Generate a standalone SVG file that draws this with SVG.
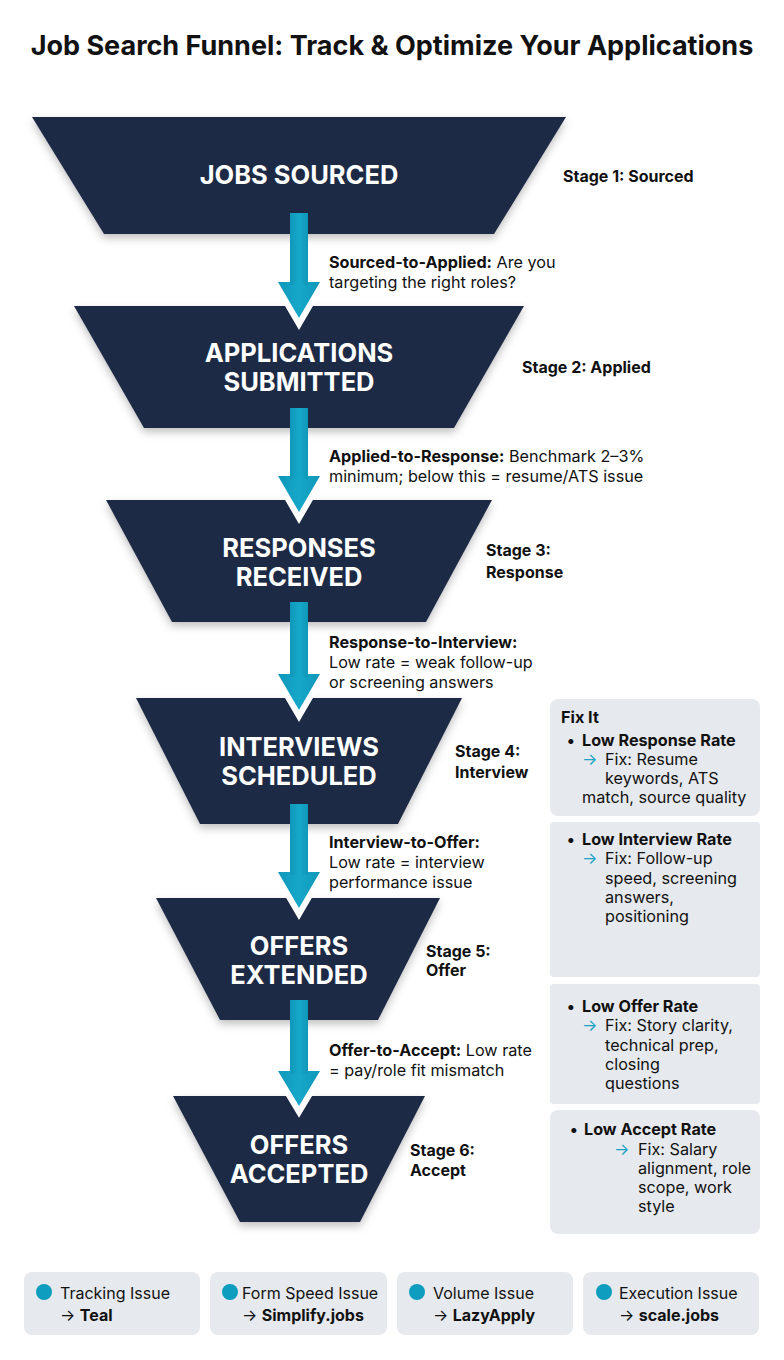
<svg xmlns="http://www.w3.org/2000/svg" width="784" height="1360" viewBox="0 0 784 1360">
<defs>
<filter id="sh" x="-10%" y="-10%" width="120%" height="130%">
<feDropShadow dx="0" dy="4" stdDeviation="4" flood-color="#000" flood-opacity="0.25"/>
</filter>
<linearGradient id="tg" x1="0" y1="0" x2="1" y2="0">
<stop offset="0" stop-color="#0f97b9"/>
<stop offset="0.5" stop-color="#16a8c9"/>
<stop offset="1" stop-color="#0f97b9"/>
</linearGradient>
</defs>
<style>
text{font-family:Inter,"Liberation Sans",sans-serif;fill:#111}
.title{font-size:27px;font-weight:700}
.trap{fill:#1f2a45;filter:url(#sh)}
.tt{fill:#fff;font-size:25.5px;font-weight:700;text-anchor:middle}
.stage{font-size:16px;font-weight:700}
.lbl{font-size:16.2px}
.b{font-weight:700}
.box{fill:#e6e9ed}
.pt{font-size:16.2px}
.head{fill:url(#tg);stroke:#fff;stroke-width:12;paint-order:stroke;stroke-linejoin:miter;stroke-miterlimit:10}
.shaft{fill:url(#tg)}
.dot{fill:#0e9cbf}
.bt{font-size:16px}
</style>
<rect width="784" height="1360" fill="#fff"/>
<text class="title" x="392" y="55" text-anchor="middle">Job Search Funnel: Track &amp; Optimize Your Applications</text>

<g id="stage1">
<polygon class="trap" points="32,117 566,117 494,234 104,234"/>
<text class="tt" x="299" y="184">JOBS SOURCED</text>
<text class="stage" x="563" y="182">Stage 1: Sourced</text>
</g>
<g id="stage2">
<polygon class="trap" points="74,306 524,306 454,428 144,428"/>
<text class="tt" x="299" y="362">APPLICATIONS</text>
<text class="tt" x="299" y="391">SUBMITTED</text>
<text class="stage" x="522" y="373">Stage 2: Applied</text>
</g>
<g id="stage3">
<polygon class="trap" points="106,500 492,500 426,622 172,622"/>
<text class="tt" x="299" y="557">RESPONSES</text>
<text class="tt" x="299" y="586">RECEIVED</text>
<text class="stage" x="486" y="556">Stage 3:</text>
<text class="stage" x="486" y="578">Response</text>
</g>
<g id="stage4">
<polygon class="trap" points="136,698 462,698 398,824 200,824"/>
<text class="tt" x="299" y="756">INTERVIEWS</text>
<text class="tt" x="299" y="785">SCHEDULED</text>
<text class="stage" x="455" y="757">Stage 4:</text>
<text class="stage" x="455" y="778">Interview</text>
</g>
<g id="stage5">
<polygon class="trap" points="156,898 440,898 378,1020 220,1020"/>
<text class="tt" x="299" y="955">OFFERS</text>
<text class="tt" x="299" y="984">EXTENDED</text>
<text class="stage" x="426" y="957">Stage 5:</text>
<text class="stage" x="426" y="976">Offer</text>
</g>
<g id="stage6">
<polygon class="trap" points="173,1096 425,1096 360,1222 240,1222"/>
<text class="tt" x="299" y="1154">OFFERS</text>
<text class="tt" x="299" y="1183">ACCEPTED</text>
<text class="stage" x="410" y="1156">Stage 6:</text>
<text class="stage" x="410" y="1176">Accept</text>
</g>

<g id="connectors">
<polygon class="head" points="278,282 320,282 299,318"/>
<rect class="shaft" x="290" y="213" width="18" height="72"/>
<polygon class="head" points="278,476 320,476 299,512"/>
<rect class="shaft" x="290" y="408" width="18" height="71"/>
<polygon class="head" points="278,674 320,674 299,710"/>
<rect class="shaft" x="290" y="602" width="18" height="75"/>
<polygon class="head" points="278,872 320,872 299,908"/>
<rect class="shaft" x="290" y="804" width="18" height="71"/>
<polygon class="head" points="278,1071 320,1071 299,1106"/>
<rect class="shaft" x="290" y="1000" width="18" height="74"/>
</g>

<g id="transition1">
<text class="lbl" x="329" y="268"><tspan class="b">Sourced-to-Applied:</tspan> Are you</text>
<text class="lbl" x="329" y="288">targeting the right roles?</text>
</g>
<g id="transition2">
<text class="lbl" x="329" y="462"><tspan class="b">Applied-to-Response:</tspan> Benchmark 2–3%</text>
<text class="lbl" x="329" y="482">minimum; below this = resume/ATS issue</text>
</g>
<g id="transition3">
<text class="lbl b" x="329" y="648">Response-to-Interview:</text>
<text class="lbl" x="329" y="668">Low rate = weak follow-up</text>
<text class="lbl" x="329" y="688">or screening answers</text>
</g>
<g id="transition4">
<text class="lbl b" x="329" y="848">Interview-to-Offer:</text>
<text class="lbl" x="329" y="868">Low rate = interview</text>
<text class="lbl" x="329" y="888">performance issue</text>
</g>
<g id="transition5">
<text class="lbl" x="329" y="1056"><tspan class="b">Offer-to-Accept:</tspan> Low rate</text>
<text class="lbl" x="329" y="1076">= pay/role fit mismatch</text>
</g>

<g id="fix1">
<rect class="box" x="550" y="699" width="210" height="117" rx="8"/>
<text class="pt b" x="561" y="723">Fix It</text>
<text class="pt b" x="567" y="746">•</text>
<text class="pt b" x="582" y="746">Low Response Rate</text>
<text class="pt" x="582" y="765" fill="#1aa3c4" style="fill:#1aa3c4">→</text>
<text class="pt" x="605" y="765">Fix: Resume</text>
<text class="pt" x="605" y="784">keywords, ATS</text>
<text class="pt" x="582" y="803">match, source quality</text>
</g>
<g id="fix2">
<rect class="box" x="550" y="822" width="210" height="155" rx="4"/>
<text class="pt b" x="567" y="845">•</text>
<text class="pt b" x="582" y="845">Low Interview Rate</text>
<text class="pt" x="582" y="864" style="fill:#1aa3c4">→</text>
<text class="pt" x="605" y="864">Fix: Follow-up</text>
<text class="pt" x="605" y="884">speed, screening</text>
<text class="pt" x="605" y="903">answers,</text>
<text class="pt" x="605" y="922">positioning</text>
</g>
<g id="fix3">
<rect class="box" x="550" y="984" width="210" height="120" rx="4"/>
<text class="pt b" x="567" y="1012">•</text>
<text class="pt b" x="582" y="1012">Low Offer Rate</text>
<text class="pt" x="582" y="1031" style="fill:#1aa3c4">→</text>
<text class="pt" x="605" y="1031">Fix: Story clarity,</text>
<text class="pt" x="605" y="1051">technical prep,</text>
<text class="pt" x="605" y="1070">closing</text>
<text class="pt" x="605" y="1089">questions</text>
</g>
<g id="fix4">
<rect class="box" x="550" y="1110" width="210" height="124" rx="8"/>
<text class="pt b" x="570" y="1135">•</text>
<text class="pt b" x="584" y="1135">Low Accept Rate</text>
<text class="pt" x="614" y="1155" style="fill:#1aa3c4">→</text>
<text class="pt" x="638" y="1155">Fix: Salary</text>
<text class="pt" x="638" y="1174">alignment, role</text>
<text class="pt" x="638" y="1193">scope, work</text>
<text class="pt" x="638" y="1212">style</text>
</g>

<g id="tool1">
<rect class="box" x="24" y="1272" width="176" height="63" rx="8"/>
<circle class="dot" cx="44" cy="1292" r="8"/>
<text class="bt" x="60" y="1299">Tracking Issue</text>
<text class="bt" x="60" y="1321">→ <tspan class="b">Teal</tspan></text>
</g>
<g id="tool2">
<rect class="box" x="210" y="1272" width="177" height="63" rx="8"/>
<circle class="dot" cx="230" cy="1292" r="8"/>
<text class="bt" x="242" y="1299">Form Speed Issue</text>
<text class="bt" x="242" y="1321">→ <tspan class="b">Simplify.jobs</tspan></text>
</g>
<g id="tool3">
<rect class="box" x="397" y="1272" width="176" height="63" rx="8"/>
<circle class="dot" cx="417" cy="1292" r="8"/>
<text class="bt" x="433" y="1299">Volume Issue</text>
<text class="bt" x="433" y="1321">→ <tspan class="b">LazyApply</tspan></text>
</g>
<g id="tool4">
<rect class="box" x="583" y="1272" width="176" height="63" rx="8"/>
<circle class="dot" cx="604" cy="1292" r="8"/>
<text class="bt" x="619" y="1299">Execution Issue</text>
<text class="bt" x="619" y="1321">→ <tspan class="b">scale.jobs</tspan></text>
</g>
</svg>
